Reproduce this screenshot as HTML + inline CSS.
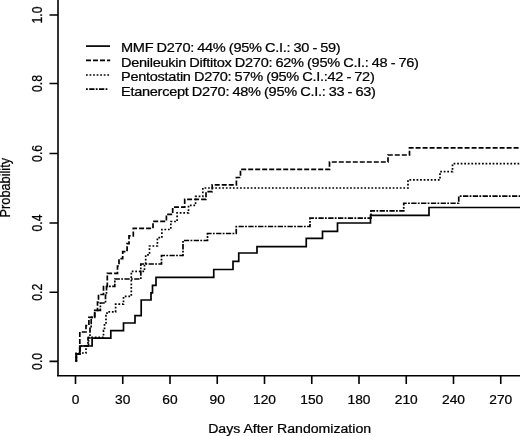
<!DOCTYPE html>
<html>
<head>
<meta charset="utf-8">
<title>Cumulative incidence</title>
<style>
html,body{margin:0;padding:0;background:#fff;}
body{width:520px;height:436px;overflow:hidden;font-family:"Liberation Sans",sans-serif;}
svg{display:block;}
text{font-family:"Liberation Sans",sans-serif;fill:#000;stroke:#000;stroke-width:0.22px;}
.c{fill:none;stroke:#000;stroke-width:1.7;stroke-linejoin:miter;stroke-linecap:butt;}
.ax{fill:none;stroke:#000;stroke-width:1.6;stroke-linecap:butt;}
</style>
</head>
<body>
<svg width="520" height="436" viewBox="0 0 520 436" style="filter:grayscale(1)">
<rect x="0" y="0" width="520" height="436" fill="#fff"/>

<!-- axes -->
<path class="ax" d="M58 0V375.75M57 375.75H520"/>
<!-- y ticks -->
<path class="ax" d="M49.5 15H58M49.5 83.5H58M49.5 153.5H58M49.5 223H58M49.5 292.2H58M49.5 361.4H58"/>
<!-- x ticks -->
<path class="ax" d="M75.5 375.75V384M122.75 375.75V384M170 375.75V384M217.25 375.75V384M264.5 375.75V384M311.75 375.75V384M359 375.75V384M406.25 375.75V384M453.5 375.75V384M500.75 375.75V384"/>

<!-- x tick labels -->
<g font-size="12.2" text-anchor="middle">
<text transform="translate(75.5 404) scale(1.13 1)">0</text>
<text transform="translate(122.75 404) scale(1.13 1)">30</text>
<text transform="translate(170 404) scale(1.13 1)">60</text>
<text transform="translate(217.25 404) scale(1.13 1)">90</text>
<text transform="translate(264.5 404) scale(1.13 1)">120</text>
<text transform="translate(311.75 404) scale(1.13 1)">150</text>
<text transform="translate(359 404) scale(1.13 1)">180</text>
<text transform="translate(406.25 404) scale(1.13 1)">210</text>
<text transform="translate(453.5 404) scale(1.13 1)">240</text>
<text transform="translate(500.75 404) scale(1.13 1)">270</text>
</g>

<!-- y tick labels -->
<g font-size="12.2" text-anchor="middle">
<text transform="translate(41.5 15) rotate(-90) scale(1 1.14)">1.0</text>
<text transform="translate(41.5 83.5) rotate(-90) scale(1 1.14)">0.8</text>
<text transform="translate(41.5 153.4) rotate(-90) scale(1 1.14)">0.6</text>
<text transform="translate(41.5 223) rotate(-90) scale(1 1.14)">0.4</text>
<text transform="translate(41.5 292.2) rotate(-90) scale(1 1.14)">0.2</text>
<text transform="translate(41.5 361.4) rotate(-90) scale(1 1.14)">0.0</text>
</g>

<!-- axis titles -->
<text font-size="12.3" text-anchor="middle" transform="translate(289.6 432.8) scale(1.147 1)">Days After Randomization</text>
<text font-size="12.75" text-anchor="middle" transform="translate(9.8 187.7) rotate(-90) scale(1 1.13)">Probability</text>

<!-- legend -->
<path class="c" d="M86 46.1H110"/>
<path class="c" stroke-dasharray="5 2" d="M86 60.4H110.2"/>
<path class="c" stroke-dasharray="1.75 1.8" d="M86 75H110"/>
<path class="c" stroke-dasharray="1.8 1.4 5.3 1.3" d="M86 89.2H107.6"/>
<g font-size="12.9" letter-spacing="-0.26" word-spacing="-0.4">
<text transform="translate(121 52.4) scale(1.13 1)">MMF D270: 44% (95% C.I.: 30 - 59)</text>
<text transform="translate(121 66.8) scale(1.13 1)">Denileukin Diftitox D270: 62% (95% C.I.: 48 - 76)</text>
<text transform="translate(121 81.2) scale(1.13 1)">Pentostatin D270: 57% (95% C.I.:42 - 72)</text>
<text transform="translate(121 95.6) scale(1.13 1)">Etanercept D270: 48% (95% C.I.: 33 - 63)</text>
</g>

<!-- curves -->
<!-- Etanercept (dash-dot) -->
<path class="c" stroke-dasharray="1.8 1.4 5.3 1.3" d="M76.3 361.5V354H79.8V346H88V338H90V327.5H91.2V317.3H94.7V310.4H100.4V303H105.5V295H106.5V286.4H114.8V279H140.8V264H161.5V255.5H183V240.5H207.5V233.5H236.25V226.5H310V218.2H371V210.8H403.75V203.25H458.75V196.2H521"/>
<!-- Pentostatin (dotted) -->
<path class="c" stroke-dasharray="1.75 1.8" d="M76.3 361.5V353H86V346H88.5V337.4H103.5V330.5H104.5V323H106V315.5H107V311.9H115.6V304.2H123.5V296.4H131.3V271.4H144.5V264H145.7V254.8H149.5V246H157.4V237.7H161.9V229.5H170.8V221.5H177.1V212.9H188.5V205.3H195.6V196.3H202.8V188H408V179.9H440V171.6H452.5V163.7H521"/>
<!-- Denileukin (dashed) -->
<path class="c" stroke-dasharray="5 2" d="M76.3 361.5V354H79.8V332H86V325.5H88.9V317.3H94.7V310.4H97.5V302H98.5V294.5H103.5V286.5H107.3V273.3H117.5V266H119V258.6H122.7V251.6H127.1V243.7H129V235.8H133.3V228.3H153V221.4H166.4V214.4H172.7V207.2H184.7V199.3H206V191.6H212.2V184.9H236.4V177.5H240.5V169.4H329.5V162H388V155H409.5V147.8H521"/>
<!-- MMF (solid) -->
<path class="c" d="M76.3 362V354H79.8V346H92.1V338.1H110.8V330.7H123.5V323H135V315.6H141.2V300H151V292.8H152.5V285.3H156V277.3H213.75V269.5H233V261.3H238.75V253H257V246.6H306.25V238.3H322.5V231.4H337.5V223H370.5V215.3H429V207.5H521"/>
</svg>
</body>
</html>
